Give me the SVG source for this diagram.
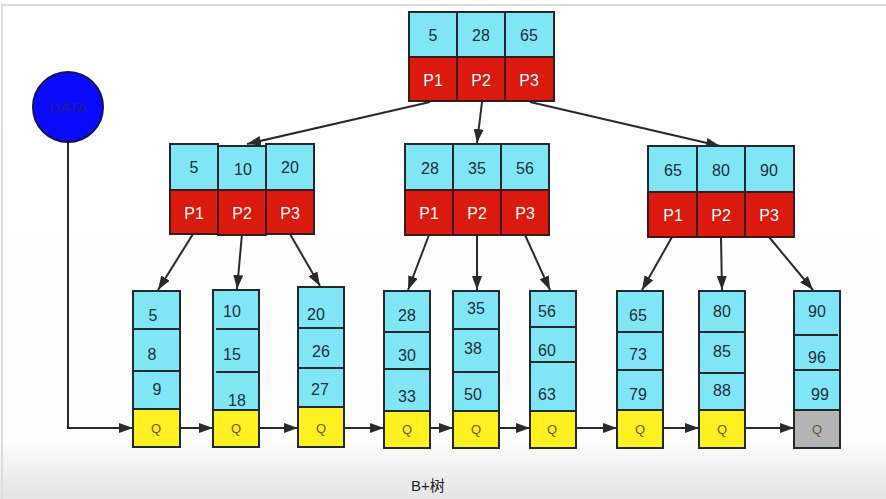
<svg xmlns="http://www.w3.org/2000/svg" width="886" height="499" viewBox="0 0 886 499">
<defs>
<linearGradient id="bg" x1="0" y1="0" x2="0" y2="1">
<stop offset="0" stop-color="#ffffff"/>
<stop offset="0.88" stop-color="#fdfdfd"/>
<stop offset="1" stop-color="#e4e4e4"/>
</linearGradient>
<marker id="ah" viewBox="0 0 14 10" refX="14" refY="5" markerWidth="14" markerHeight="10" markerUnits="userSpaceOnUse" orient="auto">
<path d="M0,0 L14,5 L0,10 Z" fill="#2a2a2a"/>
</marker>
</defs>
<style>
.k{fill:#80e6f6;stroke:#1e2a30;stroke-width:2}
.p{fill:#da1a0e;stroke:#3a1a1a;stroke-width:2}
.q{fill:#fff022;stroke:#1e2a30;stroke-width:2}
.g{fill:#b4b4b4;stroke:#1e2a30;stroke-width:2}
.dv{stroke:#1e2a30;stroke-width:2}
.kt{font-family:"Liberation Sans",Arial,sans-serif;font-size:16px;fill:#1b2f3c;text-anchor:middle;dominant-baseline:central}
.pt{font-family:"Liberation Sans",Arial,sans-serif;font-size:16px;fill:#ffffff;text-anchor:middle;dominant-baseline:central}
.qt{font-family:"Liberation Sans",Arial,sans-serif;font-size:13px;fill:#6e5a10;text-anchor:middle;dominant-baseline:central}
.c{fill:none;stroke:#2a2a2a;stroke-width:2;marker-end:url(#ah)}
</style>
<rect x="0" y="0" width="886" height="499" fill="url(#bg)"/>
<path d="M2,499 L2,5 L886,5" fill="none" stroke="#dcdcdc" stroke-width="2"/>

<g id="connectors">
<line class="c" x1="430" y1="102" x2="247" y2="144"/>
<line class="c" x1="482" y1="102" x2="477" y2="143"/>
<line class="c" x1="530" y1="102" x2="720" y2="146"/>
<line class="c" x1="193" y1="234" x2="158" y2="290"/>
<line class="c" x1="242" y1="234" x2="237" y2="289"/>
<line class="c" x1="290" y1="234" x2="320" y2="286"/>
<line class="c" x1="429" y1="235" x2="408" y2="290"/>
<line class="c" x1="477" y1="235" x2="477" y2="290"/>
<line class="c" x1="525" y1="235" x2="550" y2="290"/>
<line class="c" x1="672" y1="237" x2="642" y2="290"/>
<line class="c" x1="721" y1="237" x2="722" y2="290"/>
<line class="c" x1="769" y1="237" x2="813" y2="290"/>
<path class="c" d="M68,142 L68,428 L133,428"/>
<line class="c" x1="180" y1="428" x2="213" y2="428"/>
<line class="c" x1="259" y1="428" x2="298" y2="428"/>
<line class="c" x1="344" y1="428" x2="384" y2="428"/>
<line class="c" x1="430" y1="428" x2="453" y2="428"/>
<line class="c" x1="499" y1="428" x2="530" y2="428"/>
<line class="c" x1="576" y1="428" x2="617" y2="428"/>
<line class="c" x1="663" y1="428" x2="699" y2="428"/>
<line class="c" x1="745" y1="428" x2="794" y2="428"/>
</g>

<g id="data">
<circle cx="68" cy="107" r="35" fill="#0a0aff" stroke="#141450" stroke-width="2"/>
<text x="68" y="107" font-family="Liberation Sans,Arial,sans-serif" font-size="15" fill="#20208c" text-anchor="middle" dominant-baseline="central">DATA</text>
</g>

<g id="root">
<rect class="k" x="409" y="12" width="48" height="45"/>
<rect class="k" x="457" y="12" width="48" height="45"/>
<rect class="k" x="505" y="12" width="49" height="45"/>
<rect class="p" x="409" y="57" width="48" height="44"/>
<rect class="p" x="457" y="57" width="48" height="44"/>
<rect class="p" x="505" y="57" width="49" height="44"/>
<text class="kt" x="433" y="35">5</text>
<text class="kt" x="481" y="35">28</text>
<text class="kt" x="529" y="35">65</text>
<text class="pt" x="433" y="80">P1</text>
<text class="pt" x="481" y="80">P2</text>
<text class="pt" x="529" y="80">P3</text>
</g>

<g id="inner1">
<rect class="k" x="170" y="144" width="48" height="46"/>
<rect class="k" x="218" y="146" width="48" height="44"/>
<rect class="k" x="266" y="144" width="48" height="46"/>
<rect class="p" x="170" y="190" width="48" height="44"/>
<rect class="p" x="218" y="190" width="48" height="45"/>
<rect class="p" x="266" y="190" width="48" height="44"/>
<text class="kt" x="194" y="167">5</text>
<text class="kt" x="243" y="169">10</text>
<text class="kt" x="290" y="167">20</text>
<text class="pt" x="194" y="213">P1</text>
<text class="pt" x="242" y="213">P2</text>
<text class="pt" x="290" y="213">P3</text>
</g>

<g id="inner2">
<rect class="k" x="405" y="144" width="48" height="46"/>
<rect class="k" x="453" y="144" width="48" height="46"/>
<rect class="k" x="501" y="144" width="48" height="46"/>
<rect class="p" x="405" y="190" width="48" height="45"/>
<rect class="p" x="453" y="190" width="48" height="45"/>
<rect class="p" x="501" y="190" width="48" height="45"/>
<text class="kt" x="430" y="168">28</text>
<text class="kt" x="477" y="168">35</text>
<text class="kt" x="525" y="168">56</text>
<text class="pt" x="429" y="213">P1</text>
<text class="pt" x="477" y="213">P2</text>
<text class="pt" x="525" y="213">P3</text>
</g>

<g id="inner3">
<rect class="k" x="648" y="146" width="49" height="46"/>
<rect class="k" x="697" y="146" width="48" height="46"/>
<rect class="k" x="745" y="146" width="49" height="46"/>
<rect class="p" x="648" y="192" width="49" height="45"/>
<rect class="p" x="697" y="192" width="48" height="45"/>
<rect class="p" x="745" y="192" width="49" height="45"/>
<text class="kt" x="673" y="170">65</text>
<text class="kt" x="721" y="170">80</text>
<text class="kt" x="769" y="170">90</text>
<text class="pt" x="673" y="215">P1</text>
<text class="pt" x="721" y="215">P2</text>
<text class="pt" x="769" y="215">P3</text>
</g>

<g id="leaf1">
<rect class="k" x="133" y="291" width="47" height="118"/>
<line class="dv" x1="133" y1="329" x2="180" y2="329"/>
<line class="dv" x1="133" y1="371" x2="180" y2="371"/>
<rect class="q" x="133" y="409" width="47" height="38"/>
<text class="kt" x="153" y="315">5</text>
<text class="kt" x="152" y="354">8</text>
<text class="kt" x="157" y="389">9</text>
<text class="qt" x="156" y="428">Q</text>
</g>

<g id="leaf2">
<rect class="k" x="213" y="290" width="46" height="120"/>
<line class="dv" x1="216" y1="329" x2="258" y2="329"/>
<line class="dv" x1="216" y1="372" x2="258" y2="372"/>
<rect class="q" x="213" y="410" width="46" height="37"/>
<text class="kt" x="232" y="311">10</text>
<text class="kt" x="232" y="354">15</text>
<text class="kt" x="237" y="400">18</text>
<text class="qt" x="236" y="428">Q</text>
</g>

<g id="leaf3">
<rect class="k" x="298" y="287" width="46" height="120"/>
<line class="dv" x1="298" y1="328" x2="344" y2="328"/>
<line class="dv" x1="298" y1="368" x2="344" y2="368"/>
<rect class="q" x="298" y="407" width="46" height="40"/>
<text class="kt" x="316" y="314">20</text>
<text class="kt" x="321" y="351">26</text>
<text class="kt" x="320" y="389">27</text>
<text class="qt" x="321" y="428">Q</text>
</g>

<g id="leaf4">
<rect class="k" x="384" y="291" width="46" height="120"/>
<line class="dv" x1="384" y1="332" x2="430" y2="332"/>
<line class="dv" x1="384" y1="369" x2="430" y2="369"/>
<rect class="q" x="384" y="411" width="46" height="37"/>
<text class="kt" x="407" y="315">28</text>
<text class="kt" x="407" y="355">30</text>
<text class="kt" x="407" y="396">33</text>
<text class="qt" x="407" y="429">Q</text>
</g>

<g id="leaf5">
<rect class="k" x="453" y="291" width="46" height="120"/>
<line class="dv" x1="453" y1="329" x2="499" y2="329"/>
<line class="dv" x1="453" y1="372" x2="499" y2="372"/>
<rect class="q" x="453" y="411" width="46" height="37"/>
<text class="kt" x="476" y="308">35</text>
<text class="kt" x="473" y="348">38</text>
<text class="kt" x="473" y="394">50</text>
<text class="qt" x="476" y="429">Q</text>
</g>

<g id="leaf6">
<rect class="k" x="530" y="291" width="46" height="120"/>
<line class="dv" x1="530" y1="327" x2="576" y2="327"/>
<line class="dv" x1="530" y1="362" x2="576" y2="362"/>
<rect class="q" x="530" y="411" width="46" height="37"/>
<text class="kt" x="547" y="311">56</text>
<text class="kt" x="547" y="350">60</text>
<text class="kt" x="547" y="394">63</text>
<text class="qt" x="552" y="429">Q</text>
</g>

<g id="leaf7">
<rect class="k" x="617" y="291" width="46" height="119"/>
<line class="dv" x1="617" y1="332" x2="663" y2="332"/>
<line class="dv" x1="617" y1="370" x2="663" y2="370"/>
<rect class="q" x="617" y="410" width="46" height="38"/>
<text class="kt" x="638" y="315">65</text>
<text class="kt" x="638" y="354">73</text>
<text class="kt" x="638" y="394">79</text>
<text class="qt" x="640" y="429">Q</text>
</g>

<g id="leaf8">
<rect class="k" x="699" y="291" width="46" height="119"/>
<line class="dv" x1="699" y1="332" x2="745" y2="332"/>
<line class="dv" x1="699" y1="373" x2="745" y2="373"/>
<rect class="q" x="699" y="410" width="46" height="38"/>
<text class="kt" x="722" y="311">80</text>
<text class="kt" x="722" y="351" fill="#3e5a66">85</text>
<text class="kt" x="722" y="390">88</text>
<text class="qt" x="722" y="429">Q</text>
</g>

<g id="leaf9">
<rect class="k" x="794" y="291" width="46" height="119"/>
<line class="dv" x1="794" y1="335" x2="838" y2="335"/>
<line class="dv" x1="794" y1="370" x2="840" y2="370"/>
<rect class="g" x="794" y="410" width="46" height="38"/>
<text class="kt" x="817" y="311">90</text>
<text class="kt" x="817" y="357">96</text>
<text class="kt" x="820" y="394">99</text>
<text class="qt" x="817" y="429" fill="#4a4a4a">Q</text>
</g>

<text x="428" y="485" font-family="Liberation Sans,Noto Sans CJK SC,sans-serif" font-size="15" fill="#222222" text-anchor="middle" dominant-baseline="central">B+树</text>
</svg>
